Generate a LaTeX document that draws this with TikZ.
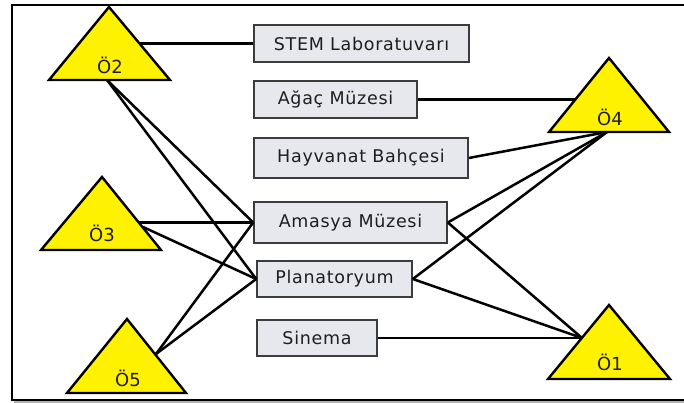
\documentclass[tikz,border=0pt]{standalone}
\usepackage{fontspec}
\setmainfont{DejaVu Sans}[LetterSpace=4]
\newfontfamily\trifont{DejaVu Sans}
\definecolor{boxfill}{RGB}{230,232,238}
\definecolor{boxdraw}{RGB}{60,60,60}
\definecolor{txt}{RGB}{30,30,30}
\begin{document}
\begin{tikzpicture}[x=1pt,y=-1pt,
  place/.style={draw=boxdraw,fill=boxfill,line width=1.6pt,inner sep=0pt,text=txt,font=\fontsize{17.5}{20}\selectfont},
  tri/.style={draw=black,fill=yellow,line width=2.4pt,line join=miter},
  trilabel/.style={inner sep=0pt,text=txt,font=\trifont\fontsize{18}{20}\selectfont},
  link/.style={draw=black,line width=2.5pt}]
\useasboundingbox (0,0) rectangle (684,403);
% frame
\draw[gray!60,line width=2pt] (14,402) -- (690,402);
\draw[black,line width=1.6pt] (690,5) -- (12,5) -- (12,400) -- (690,400);
% triangles
\draw[tri] (109,7) -- (170,80) -- (49,80) -- cycle;
\draw[tri] (102,177) -- (161,250) -- (41,250) -- cycle;
\draw[tri] (127,319) -- (186,393) -- (67,393) -- cycle;
\draw[tri] (609,58) -- (669,132) -- (549,132) -- cycle;
\draw[tri] (609,305) -- (670,379) -- (548,379) -- cycle;
\node[trilabel] (o2) at (110,65) {Ö2};
\node[trilabel] (o3) at (102,233) {Ö3};
\node[trilabel] (o5) at (128,378) {Ö5};
\node[trilabel] (o4) at (610,117) {Ö4};
\node[trilabel] (o1) at (610,362) {Ö1};
% connection points on triangle borders
\coordinate (o2r) at (139,43.5);
\coordinate (o2b) at (107,80);
\coordinate (o3r) at (139,222.5);
\coordinate (o3s) at (143,227);
\coordinate (o5r) at (156,354);
\coordinate (o4l) at (575,99.5);
\coordinate (o4b) at (607,132);
\coordinate (o1l) at (582,338);
% boxes
\node[place,minimum width=215pt,minimum height=37pt] (stem) at (361.5,43.5) {STEM Laboratuvarı};
\node[place,minimum width=163pt,minimum height=37pt] (agac) at (335.5,99.5) {Ağaç Müzesi};
\node[place,minimum width=214pt,minimum height=40pt] (hayvan) at (361,158) {Hayvanat Bahçesi};
\node[place,minimum width=193pt,minimum height=41pt] (amasya) at (350.5,222.5) {Amasya Müzesi};
\node[place,minimum width=155pt,minimum height=36pt] (plan) at (334.5,279) {Planatoryum};
\node[place,minimum width=120pt,minimum height=36pt] (sinema) at (317,338) {Sinema};
% connectors
\draw[link] (o2r) -- (stem.west);
\draw[link] (o2b) -- (amasya.west);
\draw[link] (o2b) -- (plan.west);
\draw[link] (o3r) -- (amasya.west);
\draw[link] (o3s) -- (plan.west);
\draw[link] (o5r) -- (amasya.west);
\draw[link] (o5r) -- (plan.west);
\draw[link] (agac.east) -- (o4l);
\draw[link] (hayvan.east) -- (o4b);
\draw[link] (amasya.east) -- (o4b);
\draw[link] (plan.east) -- (o4b);
\draw[link] (amasya.east) -- (o1l);
\draw[link] (plan.east) -- (o1l);
\draw[link] (sinema.east) -- (o1l);
\end{tikzpicture}
\end{document}
